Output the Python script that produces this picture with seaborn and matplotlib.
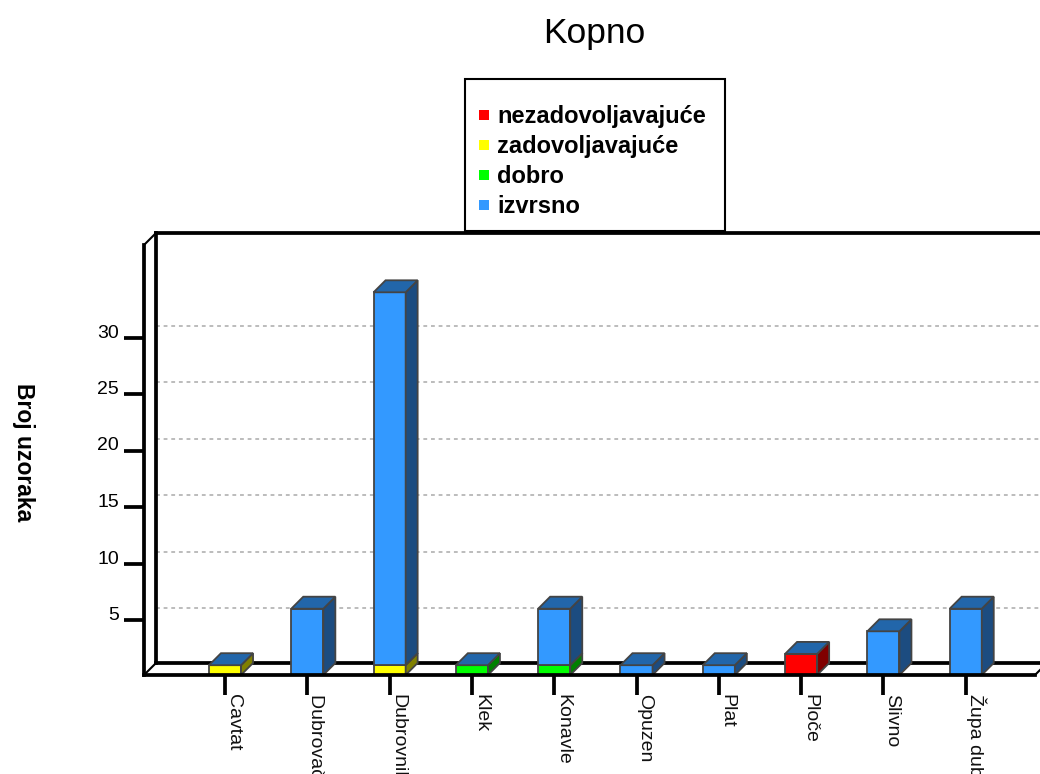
import numpy as np
import matplotlib
matplotlib.use("Agg")
import matplotlib.pyplot as plt
from matplotlib.lines import Line2D
from matplotlib.patches import Rectangle
import seaborn as sns

categories = ["Cavtat", "Dubrovačko primorje", "Dubrovnik", "Klek", "Konavle",
              "Opuzen", "Plat", "Ploče", "Slivno", "Župa dubrovačka"]
nezadovoljavajuce = [0, 0, 0, 0, 0, 0, 0, 2, 0, 0]
zadovoljavajuce = [1, 0, 1, 0, 0, 0, 0, 0, 0, 0]
dobro = [0, 0, 0, 1, 1, 0, 0, 0, 0, 0]
izvrsno = [0, 6, 33, 0, 5, 1, 1, 0, 4, 6]
yticks = [5, 10, 15, 20, 25, 30]

series_names = ["nezadovoljavajuće", "zadovoljavajuće", "dobro", "izvrsno"]
series_values = [nezadovoljavajuce, zadovoljavajuce, dobro, izvrsno]
front_colors = ["#FF0000", "#FFFF00", "#00FF00", "#3399FF"]
side_colors = ["#800000", "#808000", "#008000", "#1C4C80"]
top_color = "#2266AA"
edge_color = "#444444"

sns.set_theme(style="white")
plt.rcParams["font.family"] = ["Liberation Sans", "DejaVu Sans"]
plt.rcParams["text.color"] = "black"

W, H = 1040, 774
fig = plt.figure(figsize=(W / 100, H / 100), dpi=100, facecolor="white")
L, R, T, B = 144, 1035, 245, 675
ax = fig.add_axes([L / W, 1 - B / H, (R - L) / W, (B - T) / H])
ax.set_facecolor("none")

bottom = np.zeros(len(categories))
segments = []
for name, vals, col in zip(series_names, series_values, front_colors):
    vals = np.array(vals, dtype=float)
    sns.barplot(x=categories, y=vals, bottom=bottom, color=col, saturation=1,
                width=0.39, edgecolor=edge_color, linewidth=1.3, zorder=3, ax=ax)
    segments.append((bottom.copy(), vals))
    bottom = bottom + vals

px_x, px_y = 82.3, 11.3
x0, y0 = 225.0, 676.5
ax.set_xlim((L - x0) / px_x, (R - x0) / px_x)
ax.set_ylim((y0 - B) / px_y, (y0 - T) / px_y)
floor = (y0 - B) / px_y
dx, dy = 12 / px_x, 12 / px_y
hw = 0.39 / 2

# side faces
for (bots, vals), sc in zip(segments, side_colors):
    for i, (b, v) in enumerate(zip(bots, vals)):
        if v <= 0:
            continue
        lo, hi = max(b, floor), b + v
        ax.fill([i + hw, i + hw + dx, i + hw + dx, i + hw],
                [lo, lo + dy, hi + dy, hi], facecolor=sc, edgecolor=edge_color,
                linewidth=1.3, zorder=3)
# top faces
for i, h in enumerate(bottom):
    ax.fill([i - hw, i + hw, i + hw + dx, i - hw + dx],
            [h, h, h + dy, h + dy], facecolor=top_color, edgecolor=edge_color,
            linewidth=1.3, zorder=3)

# gridlines on the back wall
xl, xr = ax.get_xlim()
yb, yt = ax.get_ylim()
for t in yticks:
    ax.plot([xl + dx, xr + dx], [t + dy, t + dy], color="#AAAAAA", lw=1.1,
            ls=(0, (2.5, 2.5)), zorder=1, clip_on=False)

# back wall
wall = dict(color="black", lw=2.7, zorder=2, clip_on=False, solid_capstyle="projecting")
ax.plot([xl + dx, xr + dx], [yb + dy, yb + dy], **wall)
ax.plot([xl + dx, xl + dx], [yb + dy, yt + dy], **wall)
ax.plot([xl + dx, xr + dx], [yt + dy, yt + dy], **wall)
thin = dict(color="black", lw=1.5, zorder=2, clip_on=False)
ax.plot([xl, xl + dx], [yt, yt + dy], **thin)
ax.plot([xl, xl + dx], [yb, yb + dy], **thin)
ax.plot([xr, xr + dx], [yb, yb + dy], **thin)

# axes
sns.despine(ax=ax, top=True, right=True)
for s in ("left", "bottom"):
    ax.spines[s].set_linewidth(2.7)
    ax.spines[s].set_color("black")
    ax.spines[s].set_zorder(4)
ax.set_yticks(yticks)
ax.set_yticklabels([str(t) for t in yticks], fontsize=14, color="black", va="baseline")
ax.set_xticks(range(len(categories)))
ax.set_xticklabels(categories, fontsize=14, color="#111111", rotation=270, ha="left")
ax.tick_params(axis="both", which="major", length=14.4, width=2.7, color="black",
               left=True, bottom=True)
ax.tick_params(axis="y", pad=3.6)
ax.tick_params(axis="x", pad=-1)
ax.set_xlabel("")
ax.set_ylabel("Broj uzoraka", fontsize=16.5, fontweight="bold", rotation=270,
              color="black", va="center", ha="center")
ax.yaxis.set_label_coords((23 - L) / (R - L), (B - 452) / (B - T))

fig.text(594 / W, 1 - 33 / H, "Kopno", fontsize=25.5, color="black", ha="center", va="center")

# legend
fig.add_artist(Rectangle((465 / W, 1 - 231 / H), 260 / W, 152 / H, transform=fig.transFigure,
                         facecolor="white", edgecolor="black", linewidth=1.5, zorder=5))
handles = [Line2D([], [], ls="none", marker="s", markersize=7.2, color=c, markeredgewidth=0)
           for c in front_colors]
leg = fig.legend(handles, series_names, loc="upper left",
                 bbox_to_anchor=(476 / W, 1 - 105 / H), frameon=False,
                 prop=dict(weight="bold", size=17), labelspacing=0.3, labelcolor="black",
                 handlelength=0.7, handletextpad=0.2, borderpad=0, borderaxespad=0)
leg.set_zorder(6)

fig.savefig("out.png", dpi=100, facecolor="white")
